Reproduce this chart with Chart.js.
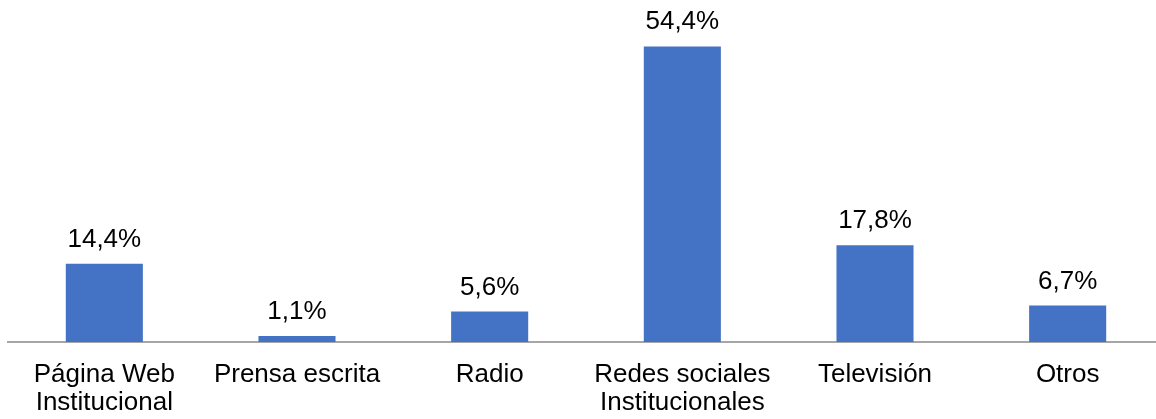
<!DOCTYPE html>
<html lang="es">
<head>
    <meta charset="UTF-8">
    <title>Canales</title>
    <script src="https://cdn.jsdelivr.net/npm/chart.js"></script>
    <style>
        html, body { margin: 0; padding: 0; background: #fff; overflow: hidden; }
        #wrap { width: 1164px; height: 419px; position: relative; }
    </style>
</head>
<body>
    <div id="wrap">
        <canvas id="chart"></canvas>
    </div>

    <script>
        // Data
        const categories = [
            ['Página Web', 'Institucional'],
            'Prensa escrita',
            'Radio',
            ['Redes sociales', 'Institucionales'],
            'Televisión',
            'Otros'
        ];
        const values = [14.4, 1.1, 5.6, 54.4, 17.8, 6.7];
        const barColor = '#4472C4';
        const fontFamily = '"Liberation Sans", Arial, sans-serif';

        // Draws "14,4%" style labels over each bar
        const valueLabels = {
            id: 'valueLabels',
            afterDatasetsDraw(chart) {
                const ctx = chart.ctx;
                const meta = chart.getDatasetMeta(0);
                ctx.save();
                ctx.font = '26px ' + fontFamily;
                ctx.fillStyle = '#000';
                ctx.textAlign = 'center';
                ctx.textBaseline = 'alphabetic';
                meta.data.forEach((bar, i) => {
                    const txt = values[i].toFixed(1).replace('.', ',') + '%';
                    ctx.fillText(txt, bar.x, bar.y - 17);
                });
                ctx.restore();
            }
        };

        new Chart(document.getElementById('chart'), {
            type: 'bar',
            data: {
                labels: categories,
                datasets: [{
                    data: values,
                    backgroundColor: barColor,
                    borderWidth: 0,
                    categoryPercentage: 1.0,
                    barPercentage: 0.4
                }]
            },
            options: {
                responsive: true,
                maintainAspectRatio: false,
                animation: false,
                layout: { padding: { left: 8, right: 0, top: 16, bottom: 0 } },
                plugins: {
                    legend: { display: false },
                    tooltip: { enabled: false }
                },
                scales: {
                    x: {
                        grid: { display: false, drawTicks: false },
                        border: { display: true, color: '#A6A6A6', width: 2 },
                        afterFit(scale) { scale.height = 77; },
                        ticks: {
                            color: '#000',
                            padding: 19,
                            maxRotation: 0,
                            autoSkip: false,
                            font: { family: fontFamily, size: 26, lineHeight: 1.06 }
                        }
                    },
                    y: {
                        display: false,
                        min: 0,
                        max: 60
                    }
                }
            },
            plugins: [valueLabels]
        });
    </script>
</body>
</html>
